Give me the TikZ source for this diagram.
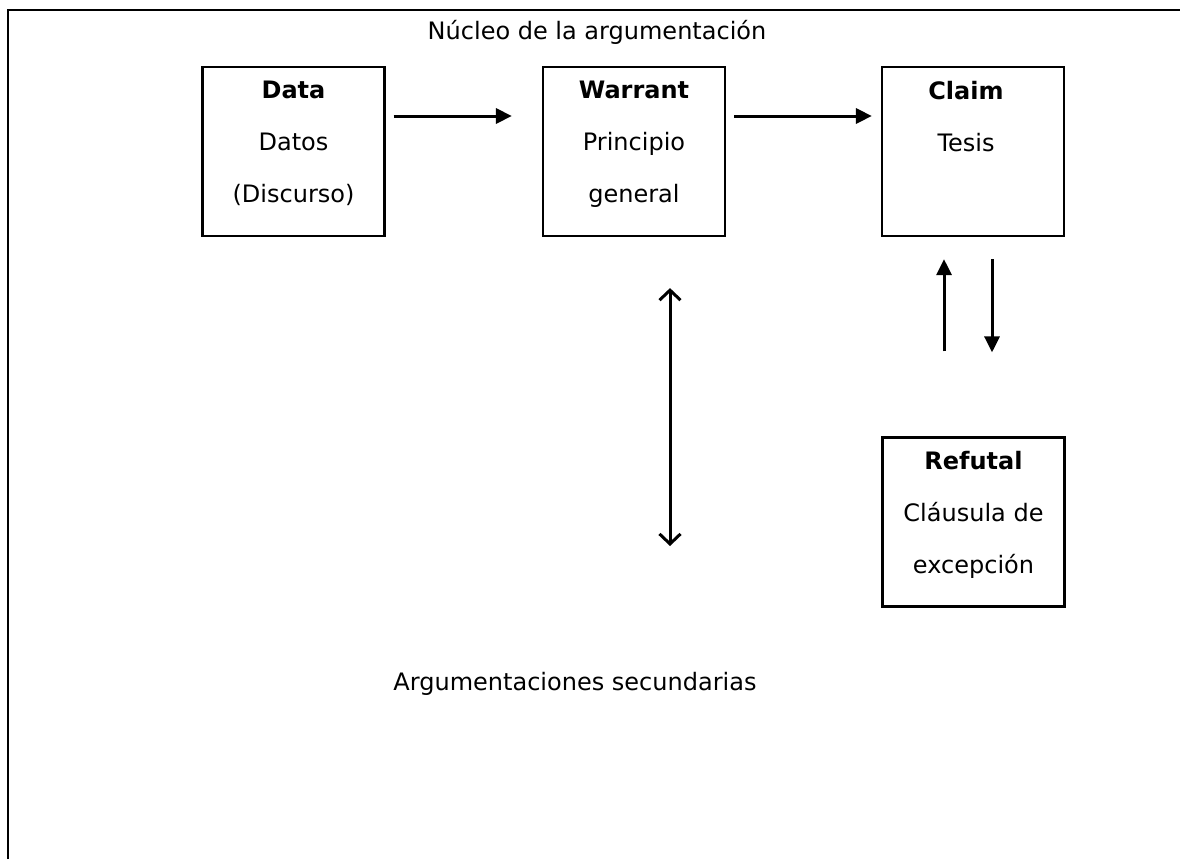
\documentclass[tikz,border=0pt]{standalone}
\usepackage{fontspec}
\setmainfont{DejaVu Sans}
\usetikzlibrary{arrows.meta}
\tikzset{
  box/.style={draw, line width=2.2pt, minimum width=182pt, minimum height=169pt, inner sep=0pt},
  boxtext/.style={anchor=north, align=center, inner sep=0pt, font=\fontsize{24}{52}\selectfont},
  caption/.style={inner sep=0pt, font=\fontsize{24}{28}\selectfont},
  flow/.style={line width=3pt, -{Triangle[length=16pt,width=15pt]}},
  twoway/.style={line width=3pt, {Straight Barb[length=10pt,width=21pt,line width=3pt]}-{Straight Barb[length=10pt,width=21pt,line width=3pt]}}
}
\begin{document}
\begin{tikzpicture}[x=1pt,y=-1pt]
\useasboundingbox (0,0) rectangle (1180,859);
% frame: only the top and left edges fall on the page
\draw[line width=2.2pt] (8,859) -- (8,10) -- (1180,10);

% boxes of the core argument
\node[box] (data) at (293.5,151.5) {};
\node[box] (warrant) at (634,151.5) {};
\node[box] (claim) at (973,151.5) {};
\node[box] (refutal) at (973.5,522) {};

\node[boxtext] (datat) at ([yshift=-15pt]data.north) {\textbf{Data}\\Datos\\(Discurso)};
\node[boxtext] (warrantt) at ([yshift=-15pt]warrant.north) {\textbf{Warrant}\\Principio\\general};
\node[boxtext] (claimt) at ([yshift=-15pt,xshift=-7pt]claim.north) {\textbf{Claim}\\Tesis};
\node[boxtext] (refutalt) at ([yshift=-15pt]refutal.north) {\textbf{Refutal}\\Cláusula de\\excepción};

% captions
\node[caption] (core) at (597,32) {Núcleo de la argumentación};
\node[caption] (sec) at (575,684) {Argumentaciones secundarias};

% connectors
\draw[flow, shorten <=8pt, shorten >=30pt] ([yshift=35.5pt]data.east) -- ([yshift=35.5pt]warrant.west);
\draw[flow, shorten <=8pt, shorten >=9pt] ([yshift=35.5pt]warrant.east) -- ([yshift=35.5pt]claim.west);
\draw[flow, shorten <=85pt, shorten >=22pt] ([xshift=-29.5pt]refutal.north) -- ([xshift=-29pt]claim.south);
\draw[flow, shorten <=22pt, shorten >=84pt] ([xshift=19pt]claim.south) -- ([xshift=18.5pt]refutal.north);
\draw[twoway, shorten <=51pt] (warrant.south -| 670,0) -- (670,546) coordinate (secend);
\end{tikzpicture}
\end{document}
